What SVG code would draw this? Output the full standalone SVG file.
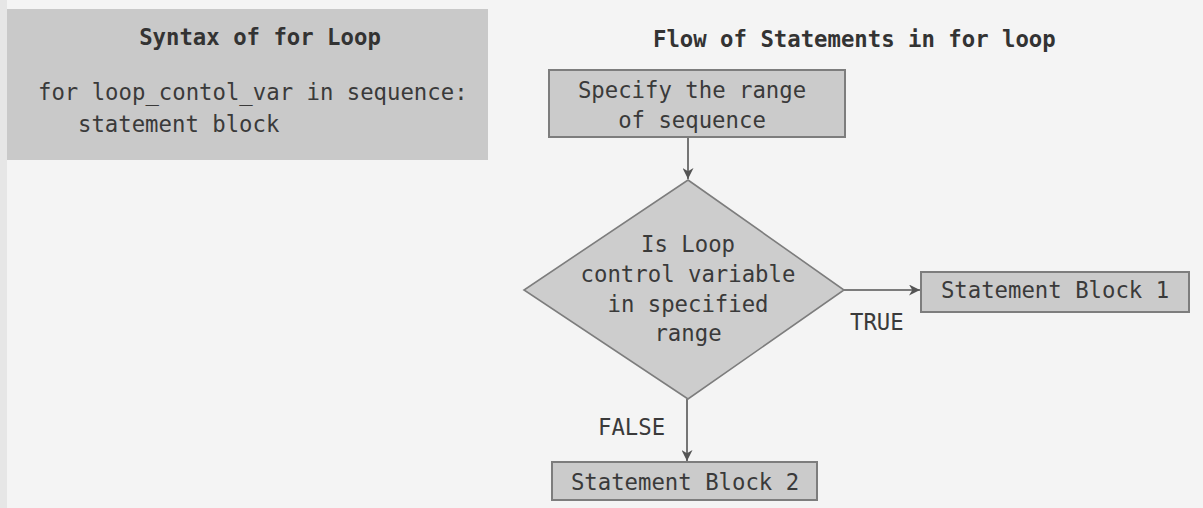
<svg xmlns="http://www.w3.org/2000/svg" width="1203" height="508" viewBox="0 0 1203 508">
<style>
text{font-family:"DejaVu Sans Mono","Liberation Mono",monospace;font-size:22.3px;fill:#3a3a3a}
.t{font-weight:bold;fill:#333}
.c{text-anchor:middle}
.box{fill:#cbcbcb;stroke:#7d7d7d;stroke-width:2}
.ln{stroke:#555;stroke-width:1.6;fill:none}
</style>
<defs>
<marker id="ah" viewBox="0 0 10 10" refX="10" refY="5" markerWidth="11" markerHeight="11" markerUnits="userSpaceOnUse" orient="auto">
<path d="M0,0 L10,5 L0,10 L3,5 Z" fill="#555"/>
</marker>
</defs>
<rect width="1203" height="508" fill="#f4f4f4"/>
<rect x="0" y="0" width="7" height="508" fill="#e6e6e6"/>
<g id="syntax">
<rect x="7" y="9" width="481" height="151" fill="#c9c9c9"/>
<text class="t c" x="260" y="45">Syntax of for Loop</text>
<text x="38" y="100">for loop_contol_var in sequence:</text>
<text x="78" y="132">statement block</text>
</g>
<g id="flow-title">
<text class="t" x="653" y="47">Flow of Statements in for loop</text>
</g>
<g id="connectors">
<line class="ln" x1="688" y1="137" x2="688" y2="179" marker-end="url(#ah)"/>
<line class="ln" x1="844" y1="290" x2="920" y2="290" marker-end="url(#ah)"/>
<line class="ln" x1="687" y1="399" x2="687" y2="461" marker-end="url(#ah)"/>
<text x="850" y="330">TRUE</text>
<text x="598" y="435">FALSE</text>
</g>
<g id="range">
<rect class="box" x="549" y="70" width="296" height="67"/>
<text class="c" x="692" y="98">Specify the range</text>
<text class="c" x="692" y="128">of sequence</text>
</g>
<g id="decision">
<polygon class="box" points="688,180 844,290 688,399 524,290" style="stroke-width:1.6;fill:#cdcdcd"/>
<text class="c" x="688" y="252">Is Loop</text>
<text class="c" x="688" y="282">control variable</text>
<text class="c" x="688" y="312">in specified</text>
<text class="c" x="688" y="341">range</text>
</g>
<g id="block1">
<rect class="box" x="921" y="272" width="268" height="40"/>
<text class="c" x="1055" y="298">Statement Block 1</text>
</g>
<g id="block2">
<rect class="box" x="552" y="462" width="265" height="38"/>
<text class="c" x="685" y="490">Statement Block 2</text>
</g>
</svg>
